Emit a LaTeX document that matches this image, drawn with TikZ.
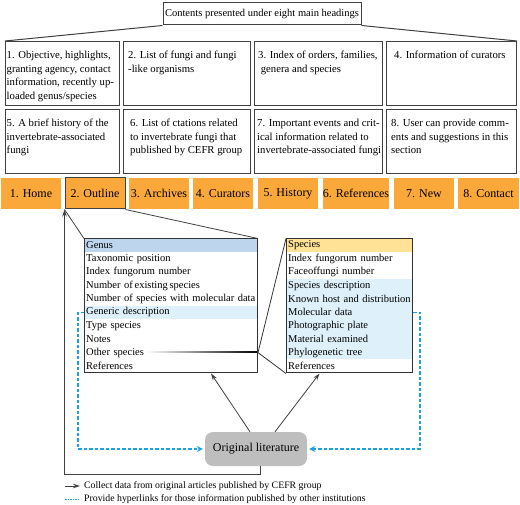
\documentclass[tikz,border=0pt]{standalone}
\usepackage{fontspec}
\setmainfont{Liberation Serif}
\usetikzlibrary{arrows.meta,positioning}

\definecolor{taborange}{RGB}{250,168,58}
\definecolor{genushead}{RGB}{189,214,238}
\definecolor{specieshead}{RGB}{255,226,150}
\definecolor{rowblue}{RGB}{222,240,250}
\definecolor{linkblue}{RGB}{27,160,225}
\definecolor{litgrey}{RGB}{190,190,190}

\tikzset{
  hbox/.style={draw=black!75, line width=1pt, anchor=north west, minimum height=64, inner sep=0},
  btext/.style={anchor=north west, align=left, inner xsep=#1, inner ysep=10, font=\fontsize{10.7}{13.5}\selectfont},
  btext/.default=2,
  tab/.style={fill=taborange, minimum height=31, inner sep=0, font=\fontsize{12}{14}\selectfont},
  tabsel/.style={tab, draw=black!75, line width=1pt},
  row/.style={anchor=north west, text width=#1, minimum height=13.4, inner xsep=1.5, inner ysep=0, font=\fontsize{10.5}{12}\selectfont},
  frame/.style={draw=black!80, line width=1pt, anchor=north west, minimum height=134, inner sep=0},
  collect/.style={draw=black!75, line width=0.8pt, -{Stealth[length=7pt,width=4.5pt]}},
  hyperlink/.style={draw=linkblue, line width=1.3pt, dash pattern=on 3.5pt off 2pt, -{Stealth[length=6pt,width=6pt]}, shorten >=2pt},
}

\begin{document}
\begin{tikzpicture}[x=1pt,y=-1pt]
\useasboundingbox (0,0) rectangle (520,505);

\def\ya{41}
\def\yb{109}
\def\yt{193.5}
\def\yg{238.5}
\def\yl{449}

% eight headings
\node[draw=black!75, line width=1pt, minimum width=198, minimum height=22, inner sep=0, font=\fontsize{10.5}{12}\selectfont] (top) at (262,14) {Contents presented under eight main headings};

\node[hbox, minimum width=114] (h1) at (5,\ya) {};
\node[hbox, minimum width=127] (h2) at (123,\ya) {};
\node[hbox, minimum width=128] (h3) at (254,\ya) {};
\node[hbox, minimum width=130] (h4) at (386,\ya) {};
\node[hbox, minimum width=114] (h5) at (5,\yb) {};
\node[hbox, minimum width=127] (h6) at (123,\yb) {};
\node[hbox, minimum width=128] (h7) at (254,\yb) {};
\node[hbox, minimum width=130] (h8) at (386,\yb) {};

\node[btext=1.5] (t1) at (h1.north west) {1. Objective, highlights,\\granting agency, contact\\information, recently up-\\loaded genus/species};
\node[btext=5] (t2) at (h2.north west) {2. List of fungi and fungi\\-like organisms};
\node[btext=4] (t3) at (h3.north west) {3. Index of orders, families,\\\ genera and species};
\node[btext=8] (t4) at (h4.north west) {4. Information of curators};
\node[btext=1.5] (t5) at (h5.north west) {5. A brief history of the\\invertebrate-associated\\fungi};
\node[btext=7] (t6) at (h6.north west) {6. List of ctations related\\to invertebrate fungi that\\published by CEFR group};
\node[btext=3] (t7) at (h7.north west) {7. Important events and crit-\\ical information related to\\invertebrate-associated fungi};
\node[btext=5] (t8) at (h8.north west) {8. User can provide comm-\\ents and suggestions in this\\section};

\draw[black!75, line width=1pt] (top.south west) -- (h1.north west);
\draw[black!75, line width=1pt] (top.south east) -- (h4.north east);

% menu tabs
\foreach \i/\xl/\xr/\lab/\st in {1/1/61/Home/tab, 2/65/125/Outline/tabsel, 3/129/189/Archives/tab, 4/193/253/Curators/tab, 5/258/318/History/tab, 6/323/389/References/tab, 7/394/454/New/tab, 8/458/519/Contact/tab}
  \node[\st, minimum width=\xr-\xl] (tab\i) at ({(\xl+\xr)/2},\yt) {\i. \lab};

% genus page
\foreach \lab/\fc [count=\i] in {Genus/genushead, Taxonomic position/white, Index fungorum number/white, Number of\,existing\,species/white, Number of species with molecular data/white, Generic description/rowblue, Type species/white, Notes/white, Other species/white, References/white}
  \node[row=169, fill=\fc] (g\i) at (84.5,{\yg+13.4*(\i-1)}) {\mbox{\lab}};
\node[frame, minimum width=173] (genus) at (84,\yg) {};

% species page
\foreach \lab/\fc [count=\i] in {Species/specieshead, Index fungorum number/white, Faceoffungi number/white, Species description/rowblue, Known host and distribution/rowblue, Molecular data/rowblue, Photographic plate/rowblue, Material examined/rowblue, Phylogenetic tree/rowblue, References/white}
  \node[row=123, fill=\fc] (s\i) at (286.5,{\yg+13.4*(\i-1)}) {\mbox{\lab}};
\node[frame, minimum width=126] (species) at (286,\yg) {};

\draw[black!75, line width=0.8pt] (tab2.south west) -- (genus.north west);
\draw[black!75, line width=0.8pt] (tab2.south east) -- (genus.north east);

\coordinate (oth) at (genus.east |- g9);
\shade[left color=white, right color=black] (146,351.9) rectangle (257,352.9);
\draw[black!80, line width=0.8pt] (oth) -- (species.north west);
\draw[black!80, line width=0.8pt] (oth) -- (species.south west);

% literature
\node[fill=litgrey, rounded corners=8pt, minimum width=102, minimum height=34, inner sep=0, font=\fontsize{12}{14}\selectfont] (lit) at (256,\yl) {Original literature};

\draw[collect] ([xshift=-6pt]lit.north) -- ([xshift=40pt]genus.south);
\draw[collect] ([xshift=19pt]lit.north) -- ([xshift=-30pt]species.south);
\draw[collect] ([xshift=4pt]lit.south) -- ++(0,8) -| (tab2.south west);

\draw[hyperlink] (genus.west |- g6) -- ++(-6,0) |- (lit.west);
\draw[hyperlink] (species.east |- s6) -- ++(7,0) |- (lit.east);

% legend
\coordinate (k1) at (65,486);
\coordinate (k2) at (65,499);
\draw[collect] (k1) -- ++(15,0);
\draw[linkblue, line width=1pt, dash pattern=on 1.5pt off 1pt] (k2) -- ++(15,0);
\node[anchor=west, inner sep=0, font=\fontsize{9.8}{11}\selectfont] (l1) at (84,486) {Collect data from original articles published by CEFR group};
\node[anchor=west, inner sep=0, font=\fontsize{9.8}{11}\selectfont] (l2) at (84,499) {Provide hyperlinks for those information published by other institutions};

\end{tikzpicture}
\end{document}
